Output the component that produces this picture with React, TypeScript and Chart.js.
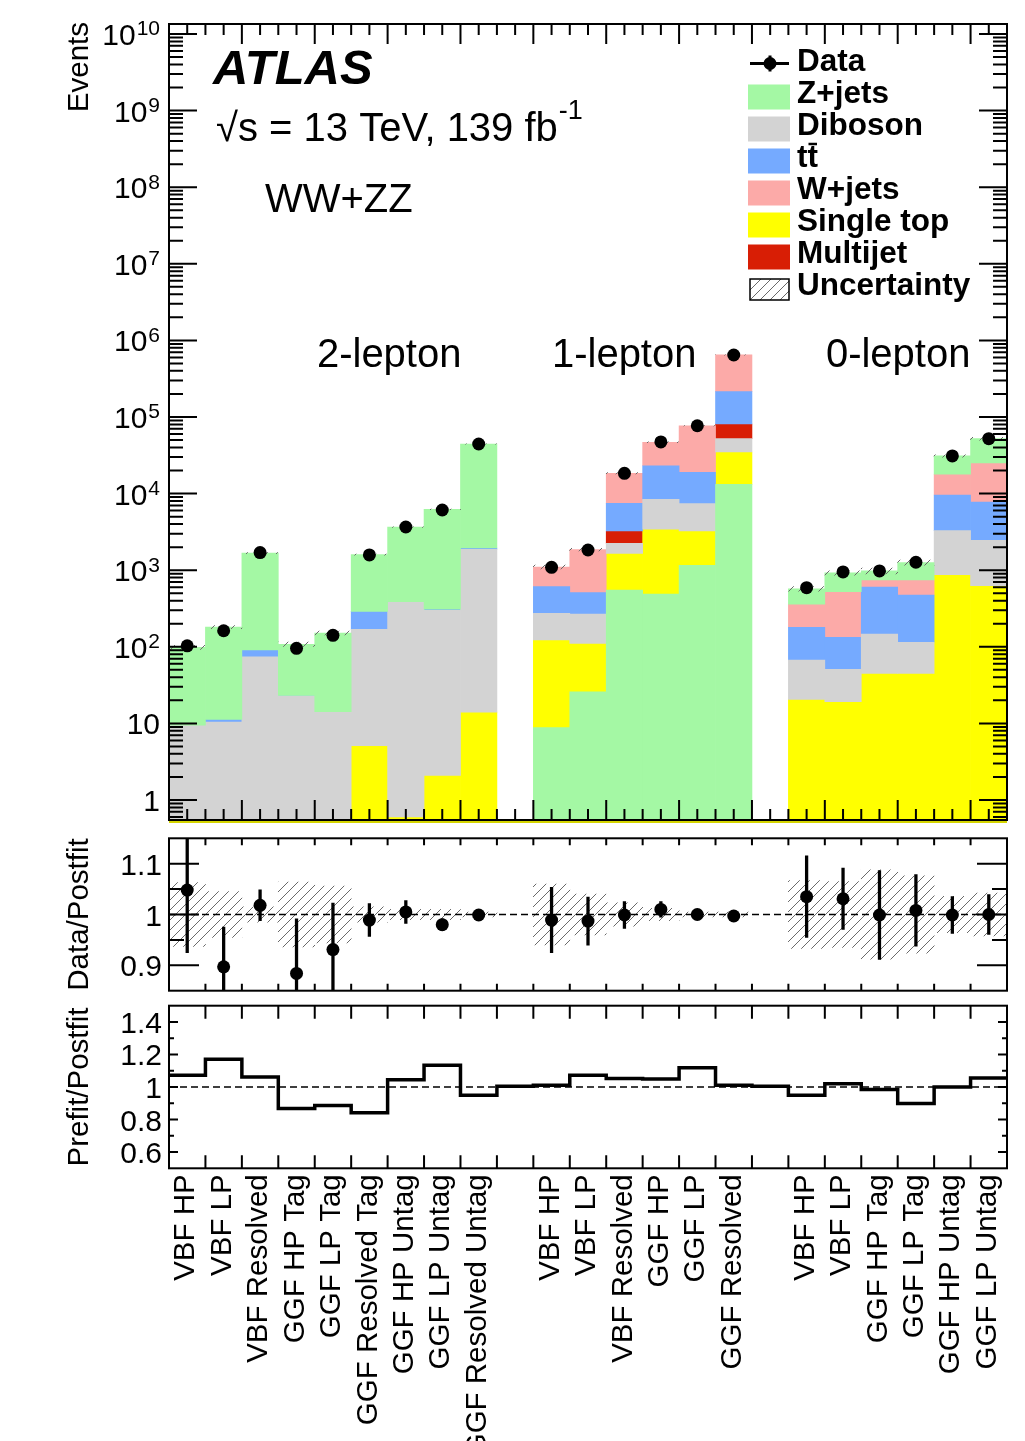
import { useEffect, useRef } from "react";
import { Chart, registerables } from "chart.js";

Chart.register(...registerables);

const FONT = "'Liberation Sans', Arial, Helvetica, sans-serif";

// Analysis categories, one per bin; empty names separate the lepton channels
const binLabels = [
  "VBF HP", "VBF LP", "VBF Resolved", "GGF HP Tag", "GGF LP Tag",
  "GGF Resolved Tag", "GGF HP Untag", "GGF LP Untag", "GGF Resolved Untag",
  "",
  "VBF HP", "VBF LP", "VBF Resolved", "GGF HP", "GGF LP", "GGF Resolved",
  "",
  "VBF HP", "VBF LP", "GGF HP Tag", "GGF LP Tag", "GGF HP Untag", "GGF LP Untag",
];
// lepton channel of each bin (-1 = spacer bin)
const binChannel = [2, 2, 2, 2, 2, 2, 2, 2, 2, -1, 1, 1, 1, 1, 1, 1, -1, 0, 0, 0, 0, 0, 0];
const channelLabels = ["2-lepton", "1-lepton", "0-lepton"];

// Postfit background yields per bin
const zJets = [88.8, 169.3, 1579, 84.9, 137.2, 1308, 3252, 5925, 42494, 0, 8.8, 25.9, 552, 489, 1160, 13200, 0, 212, 397, 233, 515, 13131, 27000];
const diboson = [9.5, 10.4, 74, 22.8, 14.0, 164, 380, 297, 1861, 0, 151, 157, 580, 5010, 4130, 17200, 0, 46.7, 31.6, 102, 69, 2407, 1832];
const ttbar = [0, 0.9, 17, 0.3, 0.2, 121, 9, 11, 75, 0, 335, 241, 4210, 14670, 11590, 132900, 0, 112.7, 82.2, 457, 360, 6310, 5310];
const wJets = [0, 0, 0, 0, 0, 0, 0, 0, 0, 0, 493, 1350, 10958, 23633, 57930, 431900, 0, 179, 391, 141, 271, 8310, 17330];
const singleTop = [0, 0, 0, 0, 0, 5.1, 0.6, 2.1, 14, 0, 114.2, 85.1, 1108, 2931, 2090, 21700, 0, 20.6, 19.2, 45, 45, 873, 628];
const multijet = [0, 0, 0, 0, 0, 0, 0, 0, 0, 0, 0, 0, 1010, 0, 0, 29000, 0, 0, 0, 0, 0, 0, 0];

// Observed events
const dataEvents = [103, 162, 1700, 95.6, 141, 1580, 3660, 6110, 44400, null, 1090, 1835, 18400, 47200, 76900, 644000, null, 591, 950, 977, 1270, 31000, 52100];

// Data / postfit ratio with its statistical error, and relative postfit uncertainty
const dataOverPostfit = [1.048, 0.897, 1.018, 0.884, 0.931, 0.989, 1.005, 0.98, 0.999, null, 0.989, 0.987, 0.999, 1.01, 1.0, 0.997, null, 1.035, 1.031, 0.999, 1.008, 0.999, 1.0];
const dataOverPostfitErr = [0.124, 0.079, 0.031, 0.108, 0.092, 0.033, 0.023, 0.012, 0.005, null, 0.065, 0.048, 0.027, 0.016, 0.005, 0.005, null, 0.081, 0.061, 0.088, 0.071, 0.037, 0.04];
const postfitUncertainty = [0.063, 0.045, 0.015, 0.064, 0.056, 0.015, 0.01, 0.01, 0.005, null, 0.06, 0.04, 0.023, 0.012, 0.005, 0.005, null, 0.067, 0.065, 0.088, 0.076, 0.036, 0.042];

// Prefit / postfit background ratio
const prefitOverPostfit = [1.073, 1.17, 1.061, 0.868, 0.886, 0.842, 1.045, 1.134, 0.949, 1.004, 1.01, 1.073, 1.053, 1.049, 1.118, 1.01, 1.004, 0.949, 1.02, 0.984, 0.899, 1.0, 1.055];

// Axis ranges and tick values
const eventsRange = [0.548, 1.35e10];
const eventDecades = [0, 1, 2, 3, 4, 5, 6, 7, 8, 9, 10];
const ratioRange = [0.85, 1.15];
const ratioMajorTicks = [0.9, 1, 1.1];
const ratioMinorTicks = [0.95, 1.05];
const prefitRange = [0.5, 1.5];
const prefitMajorTicks = [0.6, 0.8, 1, 1.2, 1.4];
const prefitMinorTicks = [0.7, 0.9, 1.1, 1.3];

const processes = [
  { key: "zJets", label: "Z+jets", color: "#a4f8a4", yields: zJets },
  { key: "diboson", label: "Diboson", color: "#d3d3d3", yields: diboson },
  { key: "ttbar", label: "tt", color: "#75aaff", yields: ttbar },
  { key: "wJets", label: "W+jets", color: "#fcaaa8", yields: wJets },
  { key: "singleTop", label: "Single top", color: "#ffff00", yields: singleTop },
  { key: "multijet", label: "Multijet", color: "#d81e05", yields: multijet },
];
// stacking order, bottom to top
const stackOrderZeroTwoLepton = ["singleTop", "diboson", "ttbar", "wJets", "zJets", "multijet"];
const stackOrderOneLepton = ["zJets", "singleTop", "diboson", "multijet", "ttbar", "wJets"];
// stacks start below the visible axis range
const stackFloor = 0.01;

const nBins = binLabels.length;

function buildStacks() {
  const ranges: Record<string, { x: number; y: [number, number] }[]> = {};
  processes.forEach((p) => (ranges[p.key] = []));
  const totals: number[] = [];
  for (let i = 0; i < nBins; i++) {
    const ch = binChannel[i];
    if (ch < 0) {
      totals.push(0);
      continue;
    }
    const order = ch === 1 ? stackOrderOneLepton : stackOrderZeroTwoLepton;
    let top = 0;
    for (const key of order) {
      const p = processes.find((q) => q.key === key)!;
      const v = p.yields[i];
      if (v > 0) {
        ranges[key].push({ x: i + 0.5, y: [top === 0 ? stackFloor : top, top + v] });
        top += v;
      }
    }
    totals.push(top);
  }
  return { ranges, totals };
}

function makeHatch(ctx: CanvasRenderingContext2D, size: number, color: string) {
  const tile = document.createElement("canvas");
  tile.width = size;
  tile.height = size;
  const g = tile.getContext("2d")!;
  g.strokeStyle = color;
  g.lineWidth = 1;
  g.beginPath();
  g.moveTo(0, size);
  g.lineTo(size, 0);
  g.moveTo(-1, 1);
  g.lineTo(1, -1);
  g.moveTo(size - 1, size + 1);
  g.lineTo(size + 1, size - 1);
  g.stroke();
  return ctx.createPattern(tile, "repeat") || "rgba(0,0,0,0.15)";
}

function pinEdges(scale: any) {
  scale.ticks = [{ value: scale.min }, { value: scale.max }];
}

type Tick = { v: number; len: number };

function drawFrameAndTicks(chart: any, xTicks: Tick[], yTicks: Tick[]) {
  const { ctx, chartArea: a, scales } = chart;
  const x = scales.x;
  const y = scales.y;
  ctx.save();
  ctx.strokeStyle = "#000";
  ctx.lineWidth = 2;
  ctx.beginPath();
  for (const t of xTicks) {
    const px = x.getPixelForValue(t.v);
    ctx.moveTo(px, a.bottom);
    ctx.lineTo(px, a.bottom - t.len);
    ctx.moveTo(px, a.top);
    ctx.lineTo(px, a.top + t.len);
  }
  for (const t of yTicks) {
    const py = y.getPixelForValue(t.v);
    ctx.moveTo(a.left, py);
    ctx.lineTo(a.left + t.len, py);
    ctx.moveTo(a.right, py);
    ctx.lineTo(a.right - t.len, py);
  }
  ctx.stroke();
  ctx.strokeRect(a.left, a.top, a.right - a.left, a.bottom - a.top);
  ctx.restore();
}

function drawVertical(ctx: CanvasRenderingContext2D, text: string, x: number, y: number, align: CanvasTextAlign, baseline: CanvasTextBaseline, font: string) {
  ctx.save();
  ctx.translate(x, y);
  ctx.rotate(-Math.PI / 2);
  ctx.font = font;
  ctx.fillStyle = "#000";
  ctx.textAlign = align;
  ctx.textBaseline = baseline;
  ctx.fillText(text, 0, 0);
  ctx.restore();
}

function drawValueLabels(ctx: CanvasRenderingContext2D, scale: any, values: number[], right: number) {
  ctx.save();
  ctx.fillStyle = "#000";
  ctx.font = `30px ${FONT}`;
  ctx.textAlign = "right";
  ctx.textBaseline = "alphabetic";
  for (const v of values) ctx.fillText(String(v), right, scale.getPixelForValue(v) + 11);
  ctx.restore();
}

const mainDecor = {
  id: "mainDecor",
  afterDraw(chart: any) {
    const { ctx, chartArea: a, scales } = chart;
    const x = scales.x;
    const y = scales.y;

    // zero line of the single-top histogram along the bottom edge
    ctx.save();
    ctx.strokeStyle = "#d4d400";
    ctx.lineWidth = 2;
    ctx.beginPath();
    ctx.moveTo(a.left, a.bottom + 2);
    ctx.lineTo(a.right, a.bottom + 2);
    ctx.stroke();
    ctx.restore();

    const xTicks: Tick[] = [];
    for (let k = 1; k < nBins * 2; k++) xTicks.push({ v: k / 2, len: k % 4 === 0 ? 20 : 11 });
    const yTicks: Tick[] = [];
    for (let e = -1; e <= 10; e++) {
      for (let m = 1; m <= 9; m++) {
        const v = m * Math.pow(10, e);
        if (v >= y.min && v <= y.max) yTicks.push({ v, len: m === 1 ? 28 : 14 });
      }
    }
    drawFrameAndTicks(chart, xTicks, yTicks);

    ctx.save();
    ctx.fillStyle = "#000";
    // decade labels 1, 10, 10^2 ... 10^10
    const right = 160;
    for (const e of eventDecades) {
      const py = y.getPixelForValue(Math.pow(10, e));
      ctx.textBaseline = "alphabetic";
      if (e <= 1) {
        ctx.font = `30px ${FONT}`;
        ctx.textAlign = "right";
        ctx.fillText(e === 0 ? "1" : "10", right, py + 11);
      } else {
        ctx.font = `21px ${FONT}`;
        const sup = String(e);
        const w = ctx.measureText(sup).width;
        ctx.textAlign = "left";
        ctx.fillText(sup, right - w, py + 1.5);
        ctx.font = `30px ${FONT}`;
        ctx.textAlign = "right";
        ctx.fillText("10", right - w - 1, py + 11);
      }
    }
    ctx.restore();

    drawVertical(ctx, "Events", 88, a.top - 2, "right", "alphabetic", `29.5px ${FONT}`);

    ctx.save();
    ctx.fillStyle = "#000";
    ctx.textAlign = "left";
    ctx.textBaseline = "alphabetic";
    ctx.font = `italic bold 49px ${FONT}`;
    ctx.fillText("ATLAS", 213, 84);
    ctx.font = `40px ${FONT}`;
    const energy = "\u221As = 13 TeV, 139 fb";
    ctx.fillText(energy, 216, 141);
    const ew = ctx.measureText(energy).width;
    ctx.font = `27px ${FONT}`;
    ctx.fillText("-1", 216 + ew + 1, 119);
    ctx.font = `40px ${FONT}`;
    ctx.fillText("WW+ZZ", 265, 212);

    // channel headings
    const channelAnchors = [4.06, 10.51, 18.03];
    channelLabels.forEach((lbl, i) => ctx.fillText(lbl, x.getPixelForValue(channelAnchors[i]), 367));

    // legend
    const lx = 748;
    const tx = 797;
    const step = 32;
    const base0 = 71;
    ctx.font = `bold 31.5px ${FONT}`;
    ctx.fillText("Data", tx, base0);
    const dy = base0 - 7.5;
    ctx.strokeStyle = "#000";
    ctx.lineWidth = 3;
    ctx.beginPath();
    ctx.moveTo(750, dy);
    ctx.lineTo(789, dy);
    ctx.moveTo(770, dy - 8);
    ctx.lineTo(770, dy + 8);
    ctx.stroke();
    ctx.beginPath();
    ctx.arc(770, dy, 6.5, 0, Math.PI * 2);
    ctx.fill();
    processes.forEach((p, i) => {
      const bl = base0 + step * (i + 1);
      ctx.fillStyle = p.color;
      ctx.fillRect(lx, bl - 18.5, 42, 25);
      ctx.fillStyle = "#000";
      ctx.fillText(p.label, tx, bl);
      if (p.key === "ttbar") {
        const tw = ctx.measureText("t").width;
        ctx.lineWidth = 2.5;
        ctx.beginPath();
        ctx.moveTo(tx + tw + 1, bl - 23);
        ctx.lineTo(tx + 2 * tw - 1, bl - 23);
        ctx.stroke();
      }
    });
    const ub = base0 + step * (processes.length + 1);
    ctx.fillStyle = chart.$hatch || "#fff";
    ctx.fillRect(750, ub - 16, 39, 21);
    ctx.strokeStyle = "#000";
    ctx.lineWidth = 1.5;
    ctx.strokeRect(750, ub - 16, 39, 21);
    ctx.fillStyle = "#000";
    ctx.fillText("Uncertainty", tx, ub);
    ctx.restore();
  },
};

const ratioDecor = {
  id: "ratioDecor",
  afterDraw(chart: any) {
    const { ctx, chartArea: a, scales } = chart;
    const xTicks: Tick[] = [];
    for (let k = 1; k < nBins; k++) xTicks.push({ v: k, len: 7 });
    const yTicks: Tick[] = [
      ...ratioMajorTicks.map((v) => ({ v, len: 30 })),
      ...ratioMinorTicks.map((v) => ({ v, len: 15 })),
    ];
    drawFrameAndTicks(chart, xTicks, yTicks);
    drawValueLabels(ctx, scales.y, ratioMajorTicks, 162);
    drawVertical(ctx, "Data/Postfit", 88, (a.top + a.bottom) / 2, "center", "alphabetic", `29.5px ${FONT}`);
  },
};

const prefitDecor = {
  id: "prefitDecor",
  afterDraw(chart: any) {
    const { ctx, chartArea: a, scales } = chart;
    const xTicks: Tick[] = [];
    for (let k = 1; k < nBins; k++) xTicks.push({ v: k, len: 13 });
    const yTicks: Tick[] = [
      ...prefitMajorTicks.map((v) => ({ v, len: 9 })),
      ...prefitMinorTicks.map((v) => ({ v, len: 5 })),
    ];
    drawFrameAndTicks(chart, xTicks, yTicks);
    drawValueLabels(ctx, scales.y, prefitMajorTicks, 162);
    drawVertical(ctx, "Prefit/Postfit", 88, (a.top + a.bottom) / 2, "center", "alphabetic", `29.5px ${FONT}`);
    // category names below the axis
    binLabels.forEach((lbl, i) => {
      if (!lbl) return;
      drawVertical(ctx, lbl, scales.x.getPixelForValue(i + 0.5) - 1, a.bottom + 6, "right", "middle", `29.5px ${FONT}`);
    });
  },
};

function xScale() {
  return {
    type: "linear" as const,
    min: 0,
    max: nBins,
    display: false,
    offset: false,
    bounds: "data" as const,
    afterBuildTicks: pinEdges,
  };
}

const barCommon = {
  borderWidth: 0,
  barPercentage: 1,
  categoryPercentage: 1,
  grouped: false,
  clip: 0,
};

const baseOptions = {
  responsive: false,
  animation: false as const,
  events: [] as any[],
  plugins: { legend: { display: false }, tooltip: { enabled: false } },
};

export default function App() {
  const mainRef = useRef<HTMLCanvasElement>(null);
  const ratioRef = useRef<HTMLCanvasElement>(null);
  const prefitRef = useRef<HTMLCanvasElement>(null);

  useEffect(() => {
    const mainCanvas = mainRef.current!;
    const ratioCanvas = ratioRef.current!;
    const prefitCanvas = prefitRef.current!;
    const mainHatch = makeHatch(mainCanvas.getContext("2d")!, 10, "#6a6a6a");
    const ratioHatch = makeHatch(ratioCanvas.getContext("2d")!, 10, "#6a6a6a");

    const { ranges, totals } = buildStacks();
    const filled = binLabels.map((_, i) => i).filter((i) => binChannel[i] >= 0);

    const mainDatasets: any[] = processes.map((p) => ({
      type: "bar",
      label: p.label,
      data: ranges[p.key],
      backgroundColor: p.color,
      order: 5,
      ...barCommon,
    }));
    mainDatasets.push({
      type: "bar",
      label: "Uncertainty",
      data: filled.map((i) => ({
        x: i + 0.5,
        y: [totals[i] * (1 - (postfitUncertainty[i] as number)), totals[i] * (1 + (postfitUncertainty[i] as number))],
      })),
      backgroundColor: mainHatch,
      order: 2,
      ...barCommon,
    });
    mainDatasets.push({
      type: "scatter",
      label: "Data",
      data: filled.map((i) => ({ x: i + 0.5, y: dataEvents[i] as number })),
      pointRadius: 6.5,
      pointBackgroundColor: "#000",
      pointBorderColor: "#000",
      pointBorderWidth: 0,
      order: 0,
    });

    const mainChart: any = new Chart(mainCanvas, {
      type: "bar",
      data: { datasets: mainDatasets },
      options: {
        ...baseOptions,
        layout: { padding: { left: 169, right: 18, top: 24, bottom: 10 } },
        scales: {
          x: xScale(),
          y: { type: "logarithmic", min: eventsRange[0], max: eventsRange[1], display: false, bounds: "data" },
        },
      } as any,
      plugins: [mainDecor],
    });
    mainChart.$hatch = mainHatch;
    mainChart.draw();

    const ratioChart = new Chart(ratioCanvas, {
      type: "bar",
      data: {
        datasets: [
          {
            type: "scatter",
            data: filled.map((i) => ({ x: i + 0.5, y: dataOverPostfit[i] as number })),
            pointRadius: 6.5,
            pointBackgroundColor: "#000",
            pointBorderColor: "#000",
            pointBorderWidth: 0,
            order: 0,
          },
          {
            type: "bar",
            data: filled.map((i) => ({
              x: i + 0.5,
              y: [(dataOverPostfit[i] as number) - (dataOverPostfitErr[i] as number), (dataOverPostfit[i] as number) + (dataOverPostfitErr[i] as number)],
            })),
            backgroundColor: "#000",
            order: 1,
            ...barCommon,
            barPercentage: 0.09,
          },
          {
            type: "line",
            data: [{ x: 0, y: 1 }, { x: nBins, y: 1 }],
            borderColor: "#000",
            borderWidth: 1.5,
            borderDash: [7, 4],
            pointRadius: 0,
            order: 2,
          },
          {
            type: "bar",
            data: filled.map((i) => ({
              x: i + 0.5,
              y: [1 - (postfitUncertainty[i] as number), 1 + (postfitUncertainty[i] as number)],
            })),
            backgroundColor: ratioHatch,
            order: 3,
            ...barCommon,
          },
        ] as any,
      },
      options: {
        ...baseOptions,
        layout: { padding: { left: 169, right: 18, top: 8.3, bottom: 7.3 } },
        scales: {
          x: xScale(),
          y: { type: "linear", min: ratioRange[0], max: ratioRange[1], display: false, bounds: "data" },
        },
      } as any,
      plugins: [ratioDecor],
    });

    const stepPoints = prefitOverPostfit.map((v, i) => ({ x: i, y: v }));
    stepPoints.push({ x: nBins, y: prefitOverPostfit[nBins - 1] });

    const prefitChart = new Chart(prefitCanvas, {
      type: "line",
      data: {
        datasets: [
          {
            data: stepPoints,
            stepped: "before",
            borderColor: "#000",
            borderWidth: 3.5,
            pointRadius: 0,
            order: 0,
          },
          {
            data: [{ x: 0, y: 1 }, { x: nBins, y: 1 }],
            borderColor: "#000",
            borderWidth: 1.5,
            borderDash: [7, 4],
            pointRadius: 0,
            order: 1,
          },
        ] as any,
      },
      options: {
        ...baseOptions,
        layout: { padding: { left: 169, right: 18, top: 7.7, bottom: 272.7 } },
        scales: {
          x: xScale(),
          y: { type: "linear", min: prefitRange[0], max: prefitRange[1], display: false, bounds: "data" },
        },
      } as any,
      plugins: [prefitDecor],
    });

    return () => {
      mainChart.destroy();
      ratioChart.destroy();
      prefitChart.destroy();
    };
  }, []);

  return (
    <div style={{ position: "absolute", left: 0, top: 0, width: 1025, height: 1441, background: "#fff", overflow: "hidden" }}>
      <canvas ref={mainRef} width={1025} height={830} style={{ position: "absolute", left: 0, top: 0 }} />
      <canvas ref={ratioRef} width={1025} height={168} style={{ position: "absolute", left: 0, top: 830 }} />
      <canvas ref={prefitRef} width={1025} height={443} style={{ position: "absolute", left: 0, top: 998 }} />
    </div>
  );
}
